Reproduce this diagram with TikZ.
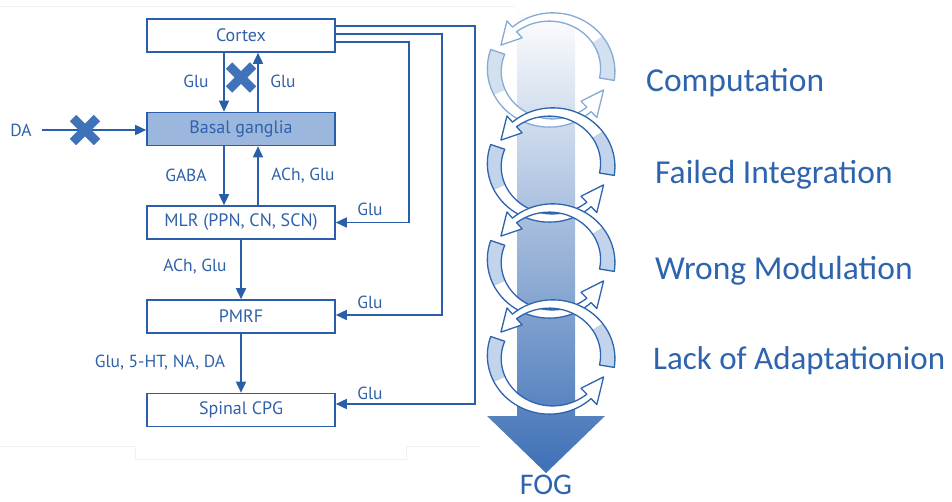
\documentclass[tikz,border=0pt]{standalone}
\usepackage{fontspec}
\setmainfont{PT Sans}
\newfontfamily\calibri{Carlito}
\usetikzlibrary{arrows.meta,calc}
\definecolor{lineblue}{HTML}{2A5EA9}
\definecolor{txtblue}{HTML}{2F62AA}
\definecolor{bgfill}{HTML}{9BB7DD}
\definecolor{crossblue}{HTML}{3F72B8}
\definecolor{rtxt}{HTML}{2E64AE}
\definecolor{ringdark}{HTML}{2E64AE}
\definecolor{ringlight}{HTML}{86AAD6}
\definecolor{taildark}{HTML}{C2D4EB}
\definecolor{taillight}{HTML}{D3E0F0}
\definecolor{bigarrow}{HTML}{3E70B6}
\definecolor{faint}{HTML}{EEF2F8}

% #1 start, #2 tail-shade end, #3 head base, #4 tip, #5 line colour, #6 tail colour
\newcommand{\ringarrow}[6]{%
  \fill[white] plot[domain=#1:#3,samples=40] (\x:{56+4*(#3-\x)/(#3-#1)}) -- (#3:64) -- (#4:53) -- (#3:42)
     -- plot[domain=#3:#1,samples=40] (\x:{50-4*(#3-\x)/(#3-#1)}) -- cycle;
  \fill[#6] plot[domain=#1:#2,samples=20] (\x:{56+4*(#3-\x)/(#3-#1)})
     -- plot[domain=#2:#1,samples=20] (\x:{50-4*(#3-\x)/(#3-#1)}) -- cycle;
  \draw[#5,line width=1.3pt,line join=round] plot[domain=#1:#3,samples=40] (\x:{56+4*(#3-\x)/(#3-#1)}) -- (#3:64) -- (#4:53) -- (#3:42)
     -- plot[domain=#3:#1,samples=40] (\x:{50-4*(#3-\x)/(#3-#1)}) -- cycle;
}
\newcommand{\ring}[3]{% #1 centre y, #2 line colour, #3 tail colour
  \begin{scope}[shift={(551,#1)},yscale=-1,xscale=1.07]
    \ringarrow{160}{205}{312}{338}{#2}{#3}
    \ringarrow{350}{395}{490}{512}{#2}{#3}
  \end{scope}
}

\begin{document}
\begin{tikzpicture}[x=1pt,y=-1pt,
  box/.style={draw=lineblue,line width=1.6pt,fill=white,minimum width=188pt,minimum height=33pt,inner sep=0pt,
     text=txtblue,font=\fontsize{18}{21}\selectfont},
  lbl/.style={text=txtblue,font=\fontsize{17.5}{20}\selectfont,inner sep=0pt},
  rlbl/.style={text=rtxt,font=\calibri\fontsize{33.5}{40}\selectfont,inner sep=0pt,anchor=base west},
  arr/.style={draw=lineblue,line width=1.6pt,-{Triangle[width=10pt,length=11pt]}},
  crossx/.style={draw=crossblue,line width=9pt,line cap=butt}]
\useasboundingbox (0,0) rectangle (952,501);

% faint background lines
\draw[faint,line width=0.8pt] (0,6) -- (515,6);
\draw[faint,line width=0.8pt] (0,446) -- (135,446) (406,446) -- (480,446);
\draw[faint,line width=0.8pt] (135,446) -- (135,459) -- (406,459) -- (406,446);

% big FOG arrow
\shade[top color=white,bottom color=bigarrow] (517,8) -- (575,8) -- (575,416) -- (605,416) -- (546,473) -- (487,416) -- (517,416) -- cycle;

% circular arrows
\ring{70}{ringlight}{taillight}
\ring{165}{ringdark}{taildark}
\ring{261}{ringdark}{taildark}
\ring{357}{ringdark}{taildark}

% right texts
\node[rlbl] (t1) at (646,91) {Computation};
\node[rlbl] (t2) at (655,183) {Failed Integration};
\node[rlbl] (t3) at (655,279) {Wrong Modulation};
\node[rlbl,font=\calibri\fontsize{33}{40}\selectfont] (t4) at (653,369) {Lack of Adaptationion};
\node[text=rtxt,font=\calibri\fontsize{30}{36}\selectfont,inner sep=0pt,anchor=base] (fog) at (546,494) {FOG};

% boxes
\node[box] (cortex) at (241,35.5) {Cortex};
\node[box,fill=bgfill] (bg) at (241,129) {Basal ganglia};
\node[box] (mlr) at (241,222.5) {MLR (PPN, CN, SCN)};
\node[box] (pmrf) at (241,316.5) {PMRF};
\node[box] (cpg) at (241,410) {Spinal CPG};

% vertical connections
\draw[arr] ($(cortex.south)+(-17,0)$) -- ($(bg.north)+(-17,0)$);
\draw[arr] ($(bg.north)+(17,0)$) -- ($(cortex.south)+(17,0)$);
\draw[arr] ($(bg.south)+(-17,0)$) -- ($(mlr.north)+(-17,0)$);
\draw[arr] ($(mlr.north)+(17,0)$) -- ($(bg.south)+(17,0)$);
\draw[arr] (mlr.south) -- (pmrf.north);
\draw[arr] (pmrf.south) -- (cpg.north);

% DA input
\node[lbl] (da) at (21,130) {DA};
\coordinate (dastart) at (42,130);
\draw[arr] (dastart) -- (bg.west |- dastart);

% feedback lines from cortex
\coordinate (f1) at ($(cortex.east)+(0,-9.5)$);
\coordinate (f2) at ($(cortex.east)+(0,-1.5)$);
\coordinate (f3) at ($(cortex.east)+(0,6.5)$);
\coordinate (e1) at ($(cpg.east)+(0,-6)$);
\coordinate (e2) at ($(pmrf.east)+(0,-1.5)$);
\coordinate (e3) at (mlr.east);
\draw[arr] (f1) -- (475,26) -- (475,404) -- (e1);
\draw[arr] (f2) -- (442,34) -- (442,315) -- (e2);
\draw[arr] (f3) -- (409,42) -- (409,222.5) -- (e3);

% crosses
\draw[crossx] (229,65.5) -- (253,89.5) (229,89.5) -- (253,65.5);
\draw[crossx] (73,118) -- (97,142) (73,142) -- (97,118);

% labels
\node[lbl] (l1) at (196,81) {Glu};
\node[lbl] (l2) at (283,81) {Glu};
\node[lbl] (l3) at (186,175.5) {GABA};
\node[lbl] (l4) at (303,175.5) {ACh, Glu};
\node[lbl] (l5) at (195,267) {ACh, Glu};
\node[lbl] (l6) at (160,363) {Glu, 5-HT, NA, DA};
\node[lbl] (l7) at (370,209) {Glu};
\node[lbl] (l8) at (370,302) {Glu};
\node[lbl] (l9) at (370,393) {Glu};
\end{tikzpicture}
\end{document}
